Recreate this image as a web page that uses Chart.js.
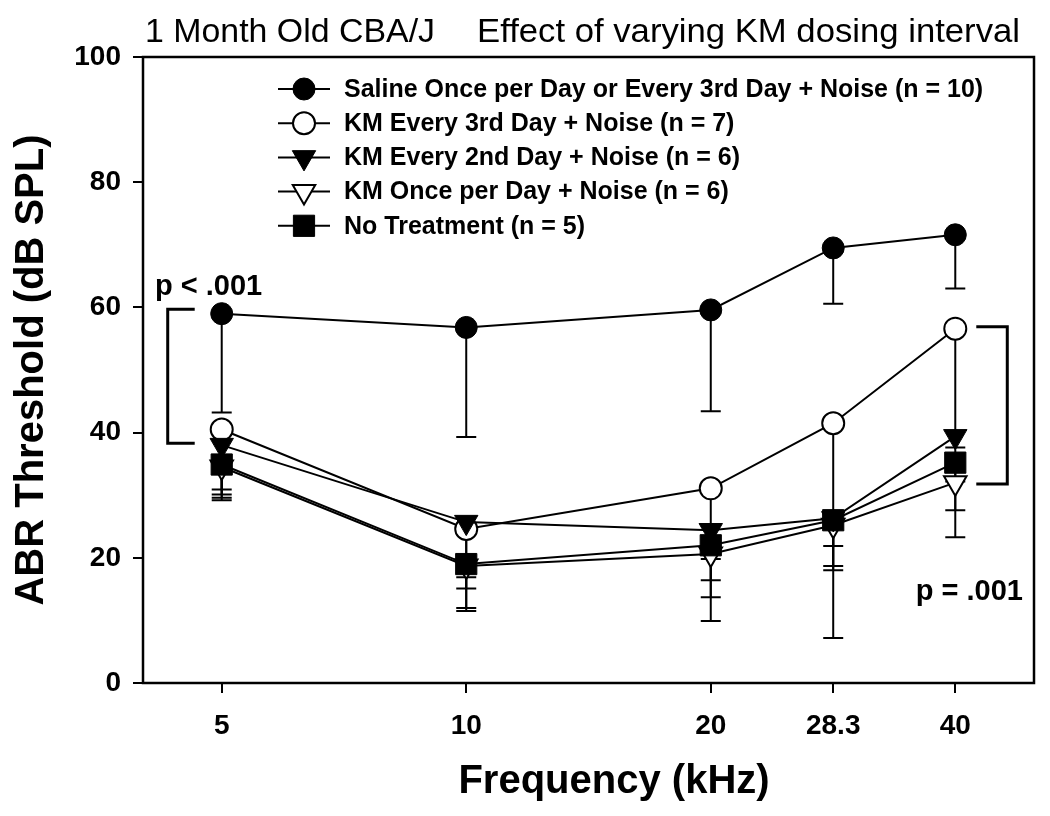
<!DOCTYPE html>
<html>
<head>
<meta charset="utf-8">
<script src="https://cdn.jsdelivr.net/npm/chart.js@4.4.0/dist/chart.umd.min.js"></script>
<style>
  html, body { margin: 0; padding: 0; background: #fff; }
  #wrap { width: 1050px; height: 816px; }
</style>
</head>
<body>
<div id="wrap"><canvas id="abrChart" width="1050" height="816"></canvas></div>
<script>
// Data
const freqs = [5, 10, 20, 28.3, 40];
const freqLabels = ['5', '10', '20', '28.3', '40'];
const yTicks = [0, 20, 40, 60, 80, 100];

const seriesNames = [
    'Saline Once per Day or Every 3rd Day + Noise (n = 10)',
    'KM Every 3rd Day + Noise (n = 7)',
    'KM Every 2nd Day + Noise (n = 6)',
    'KM Once per Day + Noise (n = 6)',
    'No Treatment (n = 5)'
];

const salineMean = [59.0, 56.8, 59.6, 69.5, 71.6];
const salineSd   = [15.8, 17.5, 16.2, 8.9, 8.6];
const km3Mean    = [40.5, 24.6, 31.1, 41.5, 56.6];
const km3Sd      = [11.3, 13.1, 21.2, 34.3, 33.3];
const km2Mean    = [38.0, 25.7, 24.4, 26.3, 39.4];
const km2Sd      = [7.9, 10.6, 8.0, 4.4, 1.8];
const km1Mean    = [34.5, 18.7, 20.6, 25.2, 32.0];
const km1Sd      = [4.9, 6.7, 6.9, 7.2, 4.4];
const noTxMean   = [34.9, 19.0, 22.0, 26.0, 35.2];
const noTxSd     = [4.0, 2.1, 2.2, 7.3, 3.0];

// significance brackets: [top value, bottom value]
const bracketLeft  = [59.7, 38.3];
const bracketRight = [56.9, 31.8];

const FONT = '"Liberation Sans", Arial, Helvetica, sans-serif';

function pts(means) {
    return freqs.map((f, i) => ({ x: f, y: means[i] }));
}

// drawing order: lower "order" ends up on top
const styles = [
    { pointStyle: 'circle',   rot: 0,   radius: 11,   fill: '#000', bw: 1, order: 5 },
    { pointStyle: 'circle',   rot: 0,   radius: 11,   fill: '#fff', bw: 2, order: 4 },
    { pointStyle: 'triangle', rot: 180, radius: 13.5, fill: '#000', bw: 1, order: 2 },
    { pointStyle: 'triangle', rot: 180, radius: 13,   fill: '#fff', bw: 2, order: 3 },
    { pointStyle: 'rect',     rot: 0,   radius: 15,   fill: '#000', bw: 1, order: 1 }
];
const means = [salineMean, km3Mean, km2Mean, km1Mean, noTxMean];
const sds = [salineSd, km3Sd, km2Sd, km1Sd, noTxSd];

const datasets = means.map((m, i) => ({
    label: seriesNames[i],
    data: pts(m),
    errors: sds[i],
    order: styles[i].order,
    borderColor: '#000',
    borderWidth: 2,
    tension: 0,
    fill: false,
    pointStyle: styles[i].pointStyle,
    pointRotation: styles[i].rot,
    pointRadius: styles[i].radius,
    pointHoverRadius: styles[i].radius,
    pointBackgroundColor: styles[i].fill,
    pointBorderColor: '#000',
    pointBorderWidth: styles[i].bw
}));

function drawMarker(ctx, ds, x, y) {
    ctx.save();
    ctx.fillStyle = ds.pointBackgroundColor;
    ctx.strokeStyle = ds.pointBorderColor;
    ctx.lineWidth = ds.pointBorderWidth;
    Chart.helpers.drawPoint(ctx, {
        pointStyle: ds.pointStyle,
        rotation: ds.pointRotation,
        radius: ds.pointRadius,
        borderWidth: ds.pointBorderWidth
    }, x, y);
    ctx.restore();
}

function fitText(ctx, text, x, y, width) {
    const w = ctx.measureText(text).width;
    ctx.save();
    ctx.translate(x, y);
    ctx.scale(width / w, 1);
    ctx.fillText(text, 0, 0);
    ctx.restore();
}

const extras = {
    id: 'extras',
    beforeDatasetsDraw(chart) {
        // error bars (lower only)
        const ctx = chart.ctx;
        const xs = chart.scales.x, ys = chart.scales.y;
        ctx.save();
        ctx.strokeStyle = '#000';
        ctx.lineWidth = 2;
        chart.data.datasets.forEach(ds => {
            ds.data.forEach((p, j) => {
                const px = xs.getPixelForValue(p.x);
                const y0 = ys.getPixelForValue(p.y);
                const y1 = ys.getPixelForValue(p.y - ds.errors[j]);
                ctx.beginPath();
                ctx.moveTo(px, y0);
                ctx.lineTo(px, y1);
                ctx.moveTo(px - 10, y1);
                ctx.lineTo(px + 10, y1);
                ctx.stroke();
            });
        });
        ctx.restore();
    },
    afterDraw(chart) {
        const ctx = chart.ctx;
        const a = chart.chartArea;
        const xs = chart.scales.x, ys = chart.scales.y;
        ctx.save();

        // frame
        ctx.strokeStyle = '#000';
        ctx.lineWidth = 2.5;
        ctx.strokeRect(a.left, a.top, a.right - a.left, a.bottom - a.top);

        ctx.fillStyle = '#000';
        // title
        ctx.font = '34px ' + FONT;
        ctx.textBaseline = 'alphabetic';
        ctx.textAlign = 'left';
        fitText(ctx, '1 Month Old CBA/J', 145, 42, 290);
        fitText(ctx, 'Effect of varying KM dosing interval', 477, 42, 543);

        // axis titles
        ctx.font = 'bold 40px ' + FONT;
        ctx.textAlign = 'center';
        ctx.fillText('Frequency (kHz)', 614, 793);
        ctx.save();
        ctx.translate(43, 370);
        ctx.rotate(-Math.PI / 2);
        ctx.fillText('ABR Threshold (dB SPL)', 0, 0);
        ctx.restore();

        // legend
        ctx.font = 'bold 25px ' + FONT;
        ctx.textAlign = 'left';
        ctx.textBaseline = 'middle';
        chart.data.datasets.forEach((ds, i) => {
            const ly = 89 + i * 34.2;
            ctx.lineWidth = 2;
            ctx.beginPath();
            ctx.moveTo(278, ly);
            ctx.lineTo(330, ly);
            ctx.stroke();
            drawMarker(ctx, ds, 304, ly);
            ctx.fillStyle = '#000';
            ctx.fillText(ds.label, 344, ly + 1);
        });

        // significance brackets
        ctx.lineWidth = 3;
        const x5 = xs.getPixelForValue(freqs[0]);
        const lt = ys.getPixelForValue(bracketLeft[0]);
        const lb = ys.getPixelForValue(bracketLeft[1]);
        ctx.beginPath();
        ctx.moveTo(x5 - 27, lt);
        ctx.lineTo(x5 - 54, lt);
        ctx.lineTo(x5 - 54, lb);
        ctx.lineTo(x5 - 27, lb);
        ctx.stroke();

        const x40 = xs.getPixelForValue(freqs[4]);
        const rt = ys.getPixelForValue(bracketRight[0]);
        const rb = ys.getPixelForValue(bracketRight[1]);
        ctx.beginPath();
        ctx.moveTo(x40 + 21, rt);
        ctx.lineTo(x40 + 52, rt);
        ctx.lineTo(x40 + 52, rb);
        ctx.lineTo(x40 + 21, rb);
        ctx.stroke();

        ctx.font = 'bold 29px ' + FONT;
        ctx.textBaseline = 'alphabetic';
        ctx.textAlign = 'left';
        ctx.fillText('p < .001', 155, 295);
        ctx.textAlign = 'right';
        ctx.fillText('p = .001', 1023, 600);

        ctx.restore();
    }
};

const ctx = document.getElementById('abrChart').getContext('2d');
const abrChart = new Chart(ctx, {
    type: 'line',
    data: { datasets: datasets },
    options: {
        responsive: false,
        animation: false,
        layout: { padding: { top: 57, right: 11, left: 0, bottom: 0 } },
        plugins: {
            legend: { display: false },
            tooltip: { enabled: false },
            title: { display: false }
        },
        scales: {
            x: {
                type: 'logarithmic',
                min: 4,
                max: 50,
                afterBuildTicks: scale => {
                    scale.ticks = freqs.map(v => ({ value: v }));
                },
                afterFit: scale => { scale.height = 133; },
                ticks: {
                    autoSkip: false,
                    maxRotation: 0,
                    padding: 16,
                    color: '#000',
                    font: { family: FONT, size: 28, weight: 'bold' },
                    callback: (v) => {
                        const i = freqs.indexOf(v);
                        return i >= 0 ? freqLabels[i] : '';
                    }
                },
                grid: { drawOnChartArea: false, drawTicks: true, tickLength: 10, color: '#000', lineWidth: 2 },
                border: { display: false }
            },
            y: {
                min: 0,
                max: 100,
                afterBuildTicks: scale => {
                    scale.ticks = yTicks.map(v => ({ value: v }));
                },
                afterFit: scale => { scale.width = 143; },
                ticks: {
                    padding: 12,
                    color: '#000',
                    font: { family: FONT, size: 28, weight: 'bold' }
                },
                grid: { drawOnChartArea: false, drawTicks: true, tickLength: 10, color: '#000', lineWidth: 2 },
                border: { display: false }
            }
        }
    },
    plugins: [extras]
});
</script>
</body>
</html>
